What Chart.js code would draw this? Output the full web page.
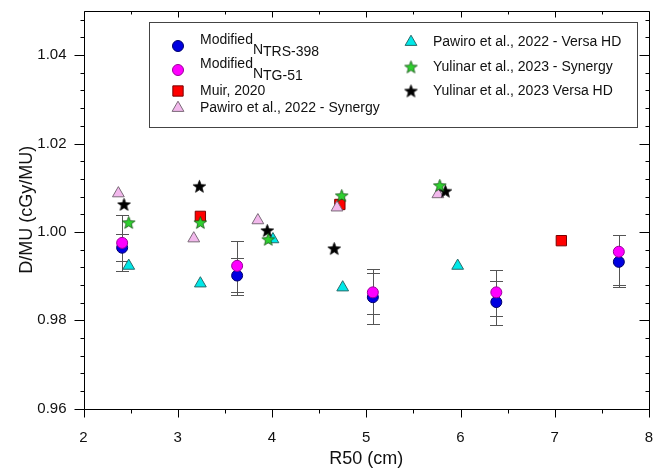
<!DOCTYPE html>
<html>
<head>
<meta charset="utf-8">
<script src="https://cdn.jsdelivr.net/npm/chart.js@4.4.0/dist/chart.umd.min.js"></script>
<style>
  html, body { margin: 0; padding: 0; background: #fff; }
  #chart { display: block; }
</style>
</head>
<body>
<canvas id="chart" width="664" height="470"></canvas>
<script>
// R50 (cm) and D/MU (cGy/MU)
const trsX = [2.41, 3.63, 5.07, 6.38, 7.68];
const trsY = [0.9964, 0.9901, 0.9852, 0.9841, 0.9932];
const trsHigh = [0.9994, 0.9941, 0.9907, 0.9889, 0.9992];
const trsLow = [0.9933, 0.9858, 0.9792, 0.9789, 0.9874];

const tgX = [2.41, 3.63, 5.07, 6.38, 7.68];
const tgY = [0.9975, 0.9923, 0.9863, 0.9863, 0.9955];
const tgHigh = [1.0039, 0.998, 0.9915, 0.9913, 0.9992];
const tgLow = [0.9911, 0.9864, 0.9814, 0.981, 0.988];

const muirX = [3.24, 4.72, 7.07];
const muirY = [1.0035, 1.0062, 0.998];

const pawiroSynX = [2.37, 3.17, 3.85, 4.69, 5.76];
const pawiroSynY = [1.0087, 0.9985, 1.0026, 1.0055, 1.0085];

const pawiroVersaX = [2.48, 3.24, 4.01, 4.75, 5.97];
const pawiroVersaY = [0.9923, 0.9883, 0.9983, 0.9874, 0.9923];

const yulinarSynX = [2.48, 3.24, 3.96, 4.74, 5.78];
const yulinarSynY = [1.0021, 1.0021, 0.9983, 1.0082, 1.0105];

const yulinarVersaX = [2.43, 3.23, 3.95, 4.66, 5.84];
const yulinarVersaY = [1.0062, 1.0103, 1.0003, 0.9962, 1.0092];

const xTicks = [2, 3, 4, 5, 6, 7, 8];
const yTicks = [0.96, 0.98, 1.0, 1.02, 1.04];

const toPoints = (xs, ys) => xs.map((x, i) => ({ x: x, y: ys[i] }));

const makeStar = (fill, stroke) => {
  const size = 15;
  const c = document.createElement("canvas");
  c.width = size;
  c.height = size;
  const g = c.getContext("2d");
  const cx = size / 2, cy = size / 2 + 0.5, r = 6.6, ri = 2.8;
  g.beginPath();
  for (let i = 0; i < 10; i++) {
    const a = -Math.PI / 2 + (i * Math.PI) / 5;
    const rr = i % 2 === 0 ? r : ri;
    const px = cx + Math.cos(a) * rr;
    const py = cy + Math.sin(a) * rr;
    if (i === 0) g.moveTo(px, py);
    else g.lineTo(px, py);
  }
  g.closePath();
  g.fillStyle = fill;
  g.fill();
  g.lineWidth = 0.8;
  g.strokeStyle = stroke;
  g.stroke();
  return c;
};

const greenStar = makeStar("#2fd02f", "#145214");
const blackStar = makeStar("#000000", "#000000");

const styles = {
  trs: { pointStyle: "circle", radius: 5.5, bg: "#0000e0", border: "#00006a" },
  tg: { pointStyle: "circle", radius: 5.5, bg: "#ff00ff", border: "#9a009a" },
  muir: { pointStyle: "rect", radius: 7.3, bg: "#ff0000", border: "#7a0000" },
  pawSyn: { pointStyle: "triangle", radius: 6.8, bg: "#f2b8ec", border: "#7a6a78" },
  pawVer: { pointStyle: "triangle", radius: 6.8, bg: "#00e8e8", border: "#2a6a6a" },
  yulSyn: { pointStyle: greenStar, radius: 7, bg: "#2fd02f", border: "#145214" },
  yulVer: { pointStyle: blackStar, radius: 7, bg: "#000", border: "#000" },
};

const ds = (label, key, pts, order, extra) =>
  Object.assign(
    {
      label: label,
      data: pts,
      pointStyle: styles[key].pointStyle,
      pointRadius: styles[key].radius,
      pointHoverRadius: styles[key].radius,
      backgroundColor: styles[key].bg,
      borderColor: styles[key].border,
      borderWidth: 1,
      order: order,
    },
    extra || {}
  );

const errorBarPlugin = {
  id: "errorBars",
  beforeDatasetsDraw(chart) {
    const { ctx, scales } = chart;
    ctx.save();
    ctx.strokeStyle = "#555";
    ctx.lineWidth = 1;
    chart.data.datasets.forEach((d) => {
      if (!d.errHigh) return;
      d.data.forEach((p, i) => {
        const x = Math.round(scales.x.getPixelForValue(p.x)) + 0.5;
        const yh = Math.round(scales.y.getPixelForValue(d.errHigh[i])) + 0.5;
        const yl = Math.round(scales.y.getPixelForValue(d.errLow[i])) + 0.5;
        ctx.beginPath();
        ctx.moveTo(x, yh);
        ctx.lineTo(x, yl);
        ctx.moveTo(x - 6.5, yh);
        ctx.lineTo(x + 6.5, yh);
        ctx.moveTo(x - 6.5, yl);
        ctx.lineTo(x + 6.5, yl);
        ctx.stroke();
      });
    });
    ctx.restore();
  },
};

const framePlugin = {
  id: "frame",
  afterDatasetsDraw(chart) {
    const { ctx, chartArea: a, scales } = chart;
    const L = Math.round(a.left) + 0.5, R = Math.round(a.right) + 0.5;
    const T = Math.round(a.top) + 0.5, B = Math.round(a.bottom) + 0.5;
    ctx.save();
    ctx.strokeStyle = "#000";
    ctx.lineWidth = 1;
    ctx.beginPath();
    ctx.rect(L, T, R - L, B - T);
    // x ticks: majors and half-unit minors
    for (let v = 2; v <= 8.001; v += 0.5) {
      const x = Math.round(scales.x.getPixelForValue(v)) + 0.5;
      const major = Math.abs(v - Math.round(v)) < 1e-6;
      ctx.moveTo(x, B);
      ctx.lineTo(x, B + (major ? 8 : 4));
      ctx.moveTo(x, T);
      ctx.lineTo(x, T + (major ? 6 : 3));
    }
    // y ticks: majors every 0.02, minors every 0.004
    for (let k = 0; k <= 22; k++) {
      const v = 0.96 + k * 0.004;
      const y = Math.round(scales.y.getPixelForValue(v)) + 0.5;
      const major = k % 5 === 0;
      ctx.moveTo(L, y);
      ctx.lineTo(L - (major ? 10 : 4), y);
      ctx.moveTo(R, y);
      ctx.lineTo(R - (major ? 10 : 4), y);
    }
    ctx.stroke();
    ctx.restore();
  },
};

const legendRows = [
  { key: "trs", col: 0, y: 46, main: "Modified", sub1: "N", sub2: "TRS-398" },
  { key: "tg", col: 0, y: 70, main: "Modified", sub1: "N", sub2: "TG-51" },
  { key: "muir", col: 0, y: 91, main: "Muir, 2020" },
  { key: "pawSyn", col: 0, y: 108, main: "Pawiro et al., 2022 - Synergy" },
  { key: "pawVer", col: 1, y: 42, main: "Pawiro et al., 2022 - Versa HD" },
  { key: "yulSyn", col: 1, y: 67, main: "Yulinar et al., 2023 - Synergy" },
  { key: "yulVer", col: 1, y: 91, main: "Yulinar et al., 2023 Versa HD" },
];

const legendPlugin = {
  id: "boxLegend",
  afterDraw(chart) {
    const { ctx } = chart;
    ctx.save();
    ctx.fillStyle = "#fff";
    ctx.fillRect(149.5, 22.5, 488, 105);
    ctx.strokeStyle = "#444";
    ctx.lineWidth = 1;
    ctx.strokeRect(149.5, 22.5, 488, 105);
    const markX = [178, 411];
    const textX = [200, 433];
    ctx.font = "14px 'Liberation Sans', Arial, sans-serif";
    ctx.textBaseline = "middle";
    ctx.textAlign = "left";
    legendRows.forEach((row) => {
      const s = styles[row.key];
      ctx.fillStyle = s.bg;
      ctx.strokeStyle = s.border;
      ctx.lineWidth = 1;
      Chart.helpers.drawPoint(
        ctx,
        { pointStyle: s.pointStyle, radius: s.radius, rotation: 0, borderWidth: 1 },
        markX[row.col],
        row.y
      );
      ctx.fillStyle = "#111";
      const tx = textX[row.col];
      if (row.sub1) {
        const ty = row.y - 6;
        ctx.fillText(row.main, tx, ty);
        const w = ctx.measureText(row.main).width;
        ctx.fillText(row.sub1, tx + w, ty + 10);
        const w1 = ctx.measureText(row.sub1).width;
        ctx.fillText(row.sub2, tx + w + w1, ty + 12);
      } else {
        ctx.fillText(row.main, tx, row.y);
      }
    });
    ctx.restore();
  },
};

const tickFont = { family: "'Liberation Sans', Arial, sans-serif", size: 15 };
const titleFont = { family: "'Liberation Sans', Arial, sans-serif", size: 18 };

new Chart(document.getElementById("chart"), {
  type: "scatter",
  data: {
    datasets: [
      ds("Modified NTRS-398", "trs", toPoints(trsX, trsY), 7, { errHigh: trsHigh, errLow: trsLow }),
      ds("Modified NTG-51", "tg", toPoints(tgX, tgY), 6, { errHigh: tgHigh, errLow: tgLow }),
      ds("Muir, 2020", "muir", toPoints(muirX, muirY), 4),
      ds("Pawiro et al., 2022 - Synergy", "pawSyn", toPoints(pawiroSynX, pawiroSynY), 3),
      ds("Pawiro et al., 2022 - Versa HD", "pawVer", toPoints(pawiroVersaX, pawiroVersaY), 5),
      ds("Yulinar et al., 2023 - Synergy", "yulSyn", toPoints(yulinarSynX, yulinarSynY), 1),
      ds("Yulinar et al., 2023 Versa HD", "yulVer", toPoints(yulinarVersaX, yulinarVersaY), 2),
    ],
  },
  options: {
    responsive: false,
    animation: false,
    devicePixelRatio: 1,
    layout: { padding: { top: 11, right: 15, left: 0, bottom: 0 } },
    plugins: { legend: { display: false }, tooltip: { enabled: false } },
    scales: {
      x: {
        type: "linear",
        min: 2,
        max: 8,
        afterBuildTicks: (scale) => {
          scale.ticks = xTicks.map((v) => ({ value: v }));
        },
        afterFit: (scale) => {
          scale.height = 61.5;
          scale.paddingLeft = 0;
          scale.paddingRight = 0;
        },
        grid: { display: false, drawTicks: false },
        border: { display: false },
        ticks: { color: "#111", font: tickFont, padding: 20, maxRotation: 0, callback: (v) => String(v) },
        title: { display: true, text: "R50 (cm)", color: "#111", font: titleFont, padding: { top: 0, bottom: 0 } },
      },
      y: {
        type: "linear",
        min: 0.96,
        max: 1.05,
        afterBuildTicks: (scale) => {
          scale.ticks = yTicks.map((v) => ({ value: v }));
        },
        afterFit: (scale) => {
          scale.width = 83.5;
          scale.paddingTop = 0;
          scale.paddingBottom = 0;
        },
        grid: { display: false, drawTicks: false },
        border: { display: false },
        ticks: { color: "#111", font: tickFont, padding: 17, callback: (v) => Number(v).toFixed(2) },
        title: { display: true, text: "D/MU (cGy/MU)", color: "#111", font: titleFont, padding: { top: 16, bottom: 0 } },
      },
    },
  },
  plugins: [errorBarPlugin, framePlugin, legendPlugin],
});
</script>
</body>
</html>
